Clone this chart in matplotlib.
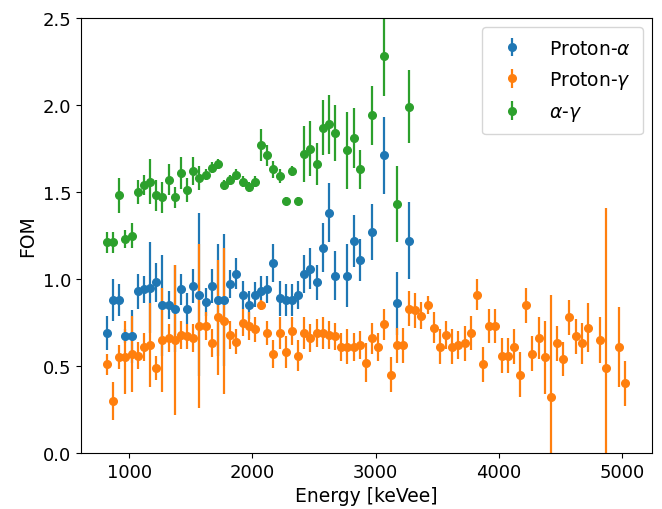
import numpy as np
import matplotlib
matplotlib.use("Agg")
import matplotlib.pyplot as plt

nan = np.nan

# Bin centres (keVee) for the full energy range
energy = [
    820, 870, 920, 970, 1020, 1070, 1120, 1170, 1220, 1270,
    1320, 1370, 1420, 1470, 1520, 1570, 1620, 1670, 1720, 1770,
    1820, 1870, 1920, 1970, 2020, 2070, 2120, 2170, 2220, 2270,
    2320, 2370, 2420, 2470, 2520, 2570, 2620, 2670, 2720, 2770,
    2820, 2870, 2920, 2970, 3020, 3070, 3120, 3170, 3220, 3270,
    3320, 3370, 3420, 3470, 3520, 3570, 3620, 3670, 3720, 3770,
    3820, 3870, 3920, 3970, 4020, 4070, 4120, 4170, 4220, 4270,
    4320, 4370, 4420, 4470, 4520, 4570, 4620, 4670, 4720, 4770,
    4820, 4870, 4920, 4970, 5020,
]

# Proton-alpha FOM (first 50 bins)
fom_p_alpha = [
    0.69, 0.88, 0.88, 0.67, 0.67, 0.93, 0.94, 0.95, 0.98, 0.85,
    0.85, 0.83, 0.94, 0.83, 0.96, 0.91, 0.87, 0.96, 0.88, 0.88,
    0.97, 1.03, 0.91, 0.85, 0.91, 0.93, 0.94, 1.09, 0.89, 0.88,
    0.88, 0.91, 1.03, 1.06, 0.98, 1.18, 1.38, 1.02, nan, 1.02,
    1.22, 1.11, nan, 1.27, nan, 1.71, nan, 0.86, nan, 1.22,
]
err_p_alpha = [
    0.10, 0.12, 0.09, 0.04, 0.15, 0.10, 0.08, 0.26, 0.11, 0.29,
    0.08, 0.25, 0.09, 0.09, 0.10, 0.47, 0.08, 0.10, 0.32, 0.38,
    0.08, 0.09, 0.08, 0.08, 0.07, 0.09, 0.08, 0.11, 0.10, 0.09,
    0.09, 0.08, 0.11, 0.12, 0.10, 0.14, 0.17, 0.14, nan, 0.18,
    0.15, 0.12, nan, 0.16, nan, 0.22, nan, 0.18, nan, 0.22,
]

# Proton-gamma FOM (all bins)
fom_p_gamma = [
    0.51, 0.30, 0.55, 0.55, 0.57, 0.56, 0.61, 0.62, 0.49, 0.65,
    0.66, 0.65, 0.68, 0.67, 0.66, 0.73, 0.73, 0.63, 0.78, 0.76,
    0.68, 0.64, 0.75, 0.73, 0.71, 0.85, 0.69, 0.57, 0.69, 0.58,
    0.70, 0.56, 0.69, 0.66, 0.69, 0.69, 0.68, 0.67, 0.61, 0.61,
    0.61, 0.62, 0.52, 0.66, 0.61, 0.74, 0.45, 0.62, 0.62, 0.83,
    0.82, 0.79, 0.85, 0.72, 0.61, 0.68, 0.61, 0.62, 0.63, 0.69,
    0.91, 0.51, 0.73, 0.73, 0.56, 0.56, 0.61, 0.45, 0.85, 0.57,
    0.66, 0.55, 0.32, 0.63, 0.54, 0.78, 0.67, 0.63, 0.72, nan,
    0.65, 0.49, nan, 0.61, 0.40,
]
err_p_gamma = [
    0.06, 0.11, 0.07, 0.21, 0.22, 0.08, 0.08, 0.24, 0.07, 0.30,
    0.08, 0.43, 0.08, 0.07, 0.08, 0.47, 0.08, 0.08, 0.33, 0.42,
    0.08, 0.07, 0.08, 0.08, 0.07, 0.03, 0.07, 0.08, 0.09, 0.09,
    0.08, 0.09, 0.09, 0.08, 0.08, 0.09, 0.08, 0.08, 0.08, 0.10,
    0.08, 0.08, 0.11, 0.09, 0.08, 0.09, 0.10, 0.10, 0.10, 0.10,
    0.10, 0.08, 0.05, 0.09, 0.10, 0.08, 0.10, 0.08, 0.10, 0.10,
    0.09, 0.10, 0.10, 0.10, 0.10, 0.10, 0.10, 0.13, 0.10, 0.10,
    0.12, 0.21, 0.59, 0.10, 0.10, 0.10, 0.10, 0.12, 0.14, nan,
    0.13, 0.92, nan, 0.23, 0.13,
]

# Alpha-gamma FOM (first 50 bins)
fom_a_gamma = [
    1.21, 1.21, 1.48, 1.23, 1.25, 1.50, 1.54, 1.56, 1.48, 1.47,
    1.57, 1.47, 1.61, 1.51, 1.62, 1.58, 1.60, 1.64, 1.66, 1.54,
    1.57, 1.60, 1.56, 1.53, 1.56, 1.77, 1.71, 1.63, 1.59, 1.45,
    1.62, 1.45, 1.72, 1.75, 1.66, 1.87, 1.89, 1.84, nan, 1.74,
    1.81, 1.63, nan, 1.94, nan, 2.28, nan, 1.43, nan, 1.99,
]
err_a_gamma = [
    0.06, 0.06, 0.10, 0.05, 0.07, 0.07, 0.06, 0.13, 0.09, 0.09,
    0.09, 0.06, 0.09, 0.07, 0.08, 0.07, 0.03, 0.03, 0.03, 0.03,
    0.03, 0.03, 0.03, 0.03, 0.03, 0.09, 0.06, 0.05, 0.04, 0.02,
    0.03, 0.02, 0.16, 0.16, 0.12, 0.16, 0.17, 0.16, nan, 0.22,
    0.17, 0.11, nan, 0.17, nan, 0.23, nan, 0.22, nan, 0.21,
]

labels = [r"Proton-$\alpha$", r"Proton-$\gamma$", r"$\alpha$-$\gamma$"]

fig = plt.figure(figsize=(6.62, 5.10), dpi=100)
ax = fig.add_axes([81 / 662, 1 - 454 / 510, (652 - 81) / 662, (454 - 19) / 510])

series = [
    (fom_p_alpha, err_p_alpha),
    (fom_p_gamma, err_p_gamma),
    (fom_a_gamma, err_a_gamma),
]
for (vals, errs), lab in zip(series, labels):
    n = len(vals)
    ax.errorbar(energy[:n], vals, yerr=errs, fmt="o", ms=5.5, elinewidth=1.6,
                label=lab)

ax.set_xlim(610, 5240)
ax.set_ylim(0, 2.5)
ax.set_xticks([1000, 2000, 3000, 4000, 5000])
ax.set_yticks([0.0, 0.5, 1.0, 1.5, 2.0, 2.5])
ax.tick_params(labelsize=13)
ax.set_xlabel("Energy [keVee]", fontsize=13.5)
ax.set_ylabel("FOM", fontsize=13.5)
ax.legend(loc="upper right", fontsize=13.5, labelspacing=0.6,
          borderpad=0.6, handletextpad=1.0)

fig.savefig("out.png", dpi=100)
